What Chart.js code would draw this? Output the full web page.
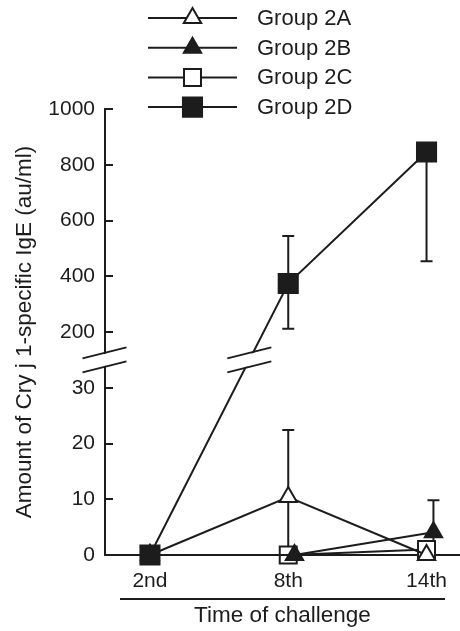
<!DOCTYPE html>
<html>
<head>
<meta charset="utf-8">
<script src="https://cdn.jsdelivr.net/npm/chart.js@4.4.1/dist/chart.umd.min.js"></script>
<style>
  html, body { margin: 0; padding: 0; background: #fff; overflow: hidden; }
  canvas { display: block; }
</style>
</head>
<body>
<canvas id="chart" width="460" height="631"></canvas>
<script>
// IgE after challenge - broken y axis (0-30 lower, 200-1000 upper)

const categories = ['2nd', '8th', '14th'];
const groupNames = ['Group 2A', 'Group 2B', 'Group 2C', 'Group 2D'];

const valuesA = [0, 10.4, 0];
const valuesB = [0, 0, 4.1];
const valuesC = [0, 0, 1.0];
const valuesD = [0, 374, 846];

// error bars (au/ml), drawn up / down from the mean
const errUpA = [0, 12, 0];
const errDownA = [0, 12, 0];
const errUpB = [0, 0, 5.7];
const errDownB = [0, 0, 5.7];
const errUpC = [0, 0, 0];
const errDownC = [0, 0, 0];
const errUpD = [0, 170, 0];
const errDownD = [0, 162, 392];

// small sideways shift of the 2B markers so they don't hide under the others
const dodgeB = [0, 0.045, 0.05];

const yTickValues = [0, 10, 20, 30, 200, 400, 600, 800, 1000];
const yTitle = 'Amount of Cry j 1-specific IgE (au/ml)';
const xTitle = 'Time of challenge';

// piecewise axis: 0..35 as is, 200..1000 squeezed 20x above the break
const BREAK_AT = 35;
function brk(v) {
    return v <= BREAK_AT ? v : 40 + (v - 200) / 20;
}

const INK = '#1c1c1c';
const FONT = '"Liberation Sans", Arial, sans-serif';
Chart.defaults.font.family = FONT;
Chart.defaults.font.size = 21;
Chart.defaults.color = INK;

function series(name, values, up, down, dodge, style, filled, radius, order) {
    return {
        label: name,
        data: values.map((v, i) => ({ x: i + (dodge ? dodge[i] : 0), y: brk(v) })),
        errUp: up,
        errDown: down,
        raw: values,
        borderColor: INK,
        borderWidth: 2,
        pointStyle: style,
        pointRadius: radius,
        pointHoverRadius: radius,
        pointBorderWidth: 2,
        pointBorderColor: INK,
        pointBackgroundColor: filled ? INK : '#fff',
        tension: 0,
        fill: false,
        clip: false,
        order: order
    };
}

const datasets = [
    series(groupNames[0], valuesA, errUpA, errDownA, null, 'triangle', false, 10, 1),
    series(groupNames[1], valuesB, errUpB, errDownB, dodgeB, 'triangle', true, 10, 2),
    series(groupNames[2], valuesC, errUpC, errDownC, null, 'rect', false, 12, 3),
    series(groupNames[3], valuesD, errUpD, errDownD, null, 'rect', true, 13.5, 0)
];

// error bars under the markers
const errorBars = {
    id: 'errorBars',
    beforeDatasetsDraw(chart) {
        const ctx = chart.ctx;
        const y = chart.scales.y;
        const area = chart.chartArea;
        ctx.save();
        ctx.beginPath();
        ctx.rect(area.left, area.top - 2, area.right - area.left, area.bottom - area.top + 2);
        ctx.clip();
        ctx.strokeStyle = INK;
        ctx.lineWidth = 2;
        chart.data.datasets.forEach((ds, i) => {
            const meta = chart.getDatasetMeta(i);
            ds.raw.forEach((v, j) => {
                const pt = meta.data[j];
                const y0 = y.getPixelForValue(brk(v));
                [[ds.errUp[j], 1], [ds.errDown[j], -1]].forEach(([e, dir]) => {
                    if (!e) return;
                    const ye = y.getPixelForValue(brk(v + dir * e));
                    ctx.beginPath();
                    ctx.moveTo(pt.x, y0);
                    ctx.lineTo(pt.x, ye);
                    ctx.moveTo(pt.x - 6, ye);
                    ctx.lineTo(pt.x + 6, ye);
                    ctx.stroke();
                });
            });
        });
        ctx.restore();
    }
};

function drawBreak(ctx, cx, cy) {
    const half = 22, rise = 5.5, gap = 7;
    ctx.fillStyle = '#fff';
    ctx.beginPath();
    ctx.moveTo(cx - half, cy - gap + rise + 1);
    ctx.lineTo(cx + half, cy - gap - rise + 1);
    ctx.lineTo(cx + half, cy + gap - rise - 1);
    ctx.lineTo(cx - half, cy + gap + rise - 1);
    ctx.closePath();
    ctx.fill();
    ctx.strokeStyle = INK;
    ctx.lineWidth = 2;
    ctx.beginPath();
    ctx.moveTo(cx - half, cy - gap + rise);
    ctx.lineTo(cx + half, cy - gap - rise);
    ctx.moveTo(cx - half, cy + gap + rise);
    ctx.lineTo(cx + half, cy + gap - rise);
    ctx.stroke();
}

// inward ticks, axis breaks, rule under the x labels, legend
const decorations = {
    id: 'decorations',
    afterDraw(chart) {
        const ctx = chart.ctx;
        const y = chart.scales.y;
        const area = chart.chartArea;
        ctx.save();

        ctx.strokeStyle = INK;
        ctx.lineWidth = 2;
        y.ticks.forEach(t => {
            const py = Math.round(y.getPixelForValue(t.value));
            ctx.beginPath();
            ctx.moveTo(area.left, py);
            ctx.lineTo(area.left + 8, py);
            ctx.stroke();
        });

        const cy = y.getPixelForValue(BREAK_AT);
        drawBreak(ctx, area.left - 0.5, cy);

        // where the 2D line crosses the break
        const metaD = chart.getDatasetMeta(3);
        for (let j = 0; j < metaD.data.length - 1; j++) {
            const p0 = metaD.data[j], p1 = metaD.data[j + 1];
            if ((p0.y - cy) * (p1.y - cy) < 0) {
                const xb = p0.x + (p1.x - p0.x) * (p0.y - cy) / (p0.y - p1.y);
                drawBreak(ctx, xb, cy);
            }
        }

        // rule between tick labels and axis title
        ctx.strokeStyle = INK;
        ctx.lineWidth = 2;
        ctx.beginPath();
        ctx.moveTo(area.left + 15, area.bottom + 44);
        ctx.lineTo(area.right - 15, area.bottom + 44);
        ctx.stroke();

        // legend
        const lx0 = 148, lx1 = 237, mx = 192.5, tx = 257;
        chart.data.datasets.forEach((ds, i) => {
            const ly = 18 + i * 29.7;
            ctx.strokeStyle = INK;
            ctx.lineWidth = 2;
            ctx.beginPath();
            ctx.moveTo(lx0, ly);
            ctx.lineTo(lx1, ly);
            ctx.stroke();
            ctx.fillStyle = ds.pointBackgroundColor;
            ctx.strokeStyle = INK;
            ctx.lineWidth = 2;
            Chart.helpers.drawPoint(ctx, {
                pointStyle: ds.pointStyle,
                radius: ds.pointRadius,
                rotation: 0,
                borderWidth: 2
            }, mx, ly);
            ctx.fillStyle = INK;
            ctx.font = '22px ' + FONT;
            ctx.textAlign = 'left';
            ctx.textBaseline = 'middle';
            ctx.fillText(ds.label, tx, ly + 1);
        });

        ctx.restore();
    }
};

new Chart(document.getElementById('chart'), {
    type: 'line',
    data: { datasets: datasets },
    options: {
        responsive: false,
        devicePixelRatio: 1,
        animation: false,
        layout: { autoPadding: false, padding: { top: 109, right: 0, bottom: 0, left: 0 } },
        plugins: {
            legend: { display: false },
            tooltip: { enabled: false }
        },
        scales: {
            x: {
                type: 'linear',
                min: -0.325,
                max: 2.242,
                afterBuildTicks: s => { s.ticks = categories.map((c, i) => ({ value: i })); },
                afterFit: s => { s.height = 76; s.paddingLeft = 0; s.paddingRight = 0; },
                grid: { display: false, drawTicks: false },
                border: { display: true, color: INK, width: 2 },
                ticks: {
                    padding: 14,
                    maxRotation: 0,
                    callback: v => categories[v]
                },
                title: {
                    display: true,
                    text: xTitle,
                    padding: { top: 0, bottom: 2 },
                    font: { size: 22.5 }
                }
            },
            y: {
                type: 'linear',
                min: 0,
                max: brk(1000),
                afterBuildTicks: s => { s.ticks = yTickValues.map(v => ({ value: brk(v) })); },
                afterFit: s => { s.width = 105; s.paddingTop = 0; s.paddingBottom = 0; },
                grid: { display: false, drawTicks: false },
                border: { display: true, color: INK, width: 2 },
                ticks: {
                    padding: 10,
                    callback: (v, i) => String(yTickValues[i])
                },
                title: {
                    display: true,
                    text: yTitle,
                    padding: { top: 11, bottom: 0 },
                    font: { size: 22.5 }
                }
            }
        }
    },
    plugins: [errorBars, decorations]
});
</script>
</body>
</html>
